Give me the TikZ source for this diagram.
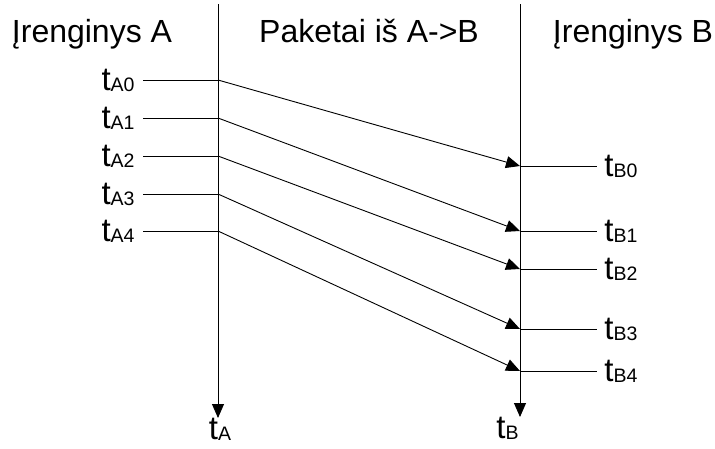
\documentclass[tikz,border=0pt]{standalone}
\usepackage{fontspec}
\setmainfont{Liberation Sans}
\usetikzlibrary{arrows.meta}
\newcommand{\tsub}[1]{t\raisebox{-1pt}{\fontsize{19.5}{19.5}\selectfont #1}}

\begin{document}
\begin{tikzpicture}[x=1pt,y=-1pt,line width=0.9pt,>={Triangle[length=14pt,width=12pt]},
head/.style={anchor=base,inner sep=0pt,font=\fontsize{32}{38}\selectfont},
tlab/.style={inner xsep=8pt,inner ysep=0pt,font=\fontsize{33}{40}\selectfont}]
\useasboundingbox (0,0) rectangle (715,448);
% headings
\node[head] (ha) at (92,42) {Įrenginys A};
\node[head] (hp) at (369,42) {Paketai iš A->B};
\node[head] (hb) at (633,42) {Įrenginys B};
% time axes
\coordinate (atop) at (218,4);
\coordinate (btop) at (520,4);
\node[tlab,anchor=north,inner xsep=0pt] (ta) at (220,418) {\tsub{A}};
\node[tlab,anchor=north east,inner xsep=0pt] (tb) at (519,417) {\tsub{B}};
\draw[->] (atop) -- (atop |- ta.north);
\draw[->] (btop) -- (btop |- tb.north);
% send times on A
\coordinate (a0) at (218,80);
\coordinate (a1) at (218,118);
\coordinate (a2) at (218,156);
\coordinate (a3) at (218,194);
\coordinate (a4) at (218,231);
\node[tlab,anchor=base east] (la0) at (143,90) {\tsub{A0}};
\node[tlab,anchor=base east] (la1) at (143,128) {\tsub{A1}};
\node[tlab,anchor=base east] (la2) at (143,166) {\tsub{A2}};
\node[tlab,anchor=base east] (la3) at (143,204) {\tsub{A3}};
\node[tlab,anchor=base east] (la4) at (143,241) {\tsub{A4}};
\draw (la0.east |- a0) -- (a0);
\draw (la1.east |- a1) -- (a1);
\draw (la2.east |- a2) -- (a2);
\draw (la3.east |- a3) -- (a3);
\draw (la4.east |- a4) -- (a4);
% receive times on B
\coordinate (b0) at (520,166);
\coordinate (b1) at (520,231);
\coordinate (b2) at (520,269);
\coordinate (b3) at (520,329);
\coordinate (b4) at (520,371);
\node[tlab,anchor=base west,inner xsep=7pt] (lb0) at (597,176) {\tsub{B0}};
\node[tlab,anchor=base west,inner xsep=7pt] (lb1) at (597,241) {\tsub{B1}};
\node[tlab,anchor=base west,inner xsep=7pt] (lb2) at (597,279) {\tsub{B2}};
\node[tlab,anchor=base west,inner xsep=7pt] (lb3) at (597,339) {\tsub{B3}};
\node[tlab,anchor=base west,inner xsep=7pt] (lb4) at (597,381) {\tsub{B4}};
\draw (b0) -- (b0 -| lb0.west);
\draw (b1) -- (b1 -| lb1.west);
\draw (b2) -- (b2 -| lb2.west);
\draw (b3) -- (b3 -| lb3.west);
\draw (b4) -- (b4 -| lb4.west);
% packets
\draw[->] (a0) -- (b0);
\draw[->] (a1) -- (b1);
\draw[->] (a2) -- (b2);
\draw[->] (a3) -- (b3);
\draw[->] (a4) -- (b4);
\end{tikzpicture}
\end{document}
